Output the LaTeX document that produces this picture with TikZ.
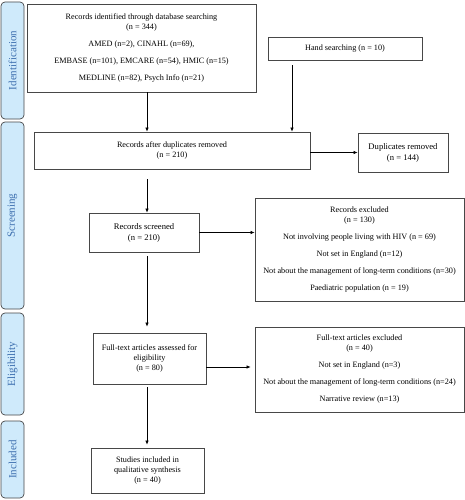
\documentclass[tikz,border=0pt]{standalone}
\usepackage{fontspec}
\setmainfont{Liberation Serif}
\usetikzlibrary{arrows.meta}
\definecolor{bandfill}{HTML}{CFEAFB}
\definecolor{bandtext}{HTML}{3D6FAF}
\definecolor{boxline}{HTML}{474747}
\tikzset{
  box/.style={draw=boxline, line width=0.8pt, fill=white, align=center, inner sep=1pt,
    font=\fontsize{8.2}{10}\selectfont},
  band/.style={draw=boxline, line width=0.7pt, fill=bandfill, rounded corners=4pt},
  bandlabel/.style={text=bandtext, rotate=90, font=\fontsize{11}{13}\selectfont},
  arr/.style={line width=0.6pt, -{Latex[length=4pt,width=3.5pt]}}
}
\begin{document}
\begin{tikzpicture}[x=1pt,y=-1pt]
\useasboundingbox (0,0) rectangle (465,500);
% bands
\draw[band] (1,2) rectangle (24,119);
\node[bandlabel] (lid) at (12.5,60.5) {Identification};
\draw[band] (1,122) rectangle (24,309);
\node[bandlabel] (lsc) at (12.5,215.5) {Screening};
\draw[band] (1,313) rectangle (24,415);
\node[bandlabel] (lel) at (12.5,364) {Eligibility};
\draw[band] (1,421) rectangle (24,498);
\node[bandlabel] (lin) at (12.5,459.5) {Included};
% boxes
\node[box, minimum width=229, minimum height=88] (b1) at (141.5,48)
  {Records identified through database searching\\(n = 344)\\[7pt]
   AMED (n=2), CINAHL (n=69),\\[7pt]
   EMBASE (n=101), EMCARE (n=54), HMIC (n=15)\\[7pt]
   MEDLINE (n=82), Psych Info (n=21)};
\node[box, minimum width=154, minimum height=23] (hs) at (345,48.5) {Hand searching (n = 10)};
\node[box, minimum width=276, minimum height=37] (rad) at (172,150.5)
  {Records after duplicates removed\\(n = 210)};
\node[box, minimum width=90, minimum height=39, font=\fontsize{8.6}{11}\selectfont] (dr) at (403,152.5)
  {Duplicates removed\\(n = 144)};
\node[box, minimum width=110, minimum height=39, font=\fontsize{8.6}{11}\selectfont] (rs) at (144,232.5)
  {Records screened\\(n = 210)};
\node[box, minimum width=209, minimum height=103] (re) at (359.5,249.5)
  {Records excluded\\(n = 130)\\[7pt]
   Not involving people living with HIV (n = 69)\\[7pt]
   Not set in England (n=12)\\[7pt]
   Not about the management of long-term conditions (n=30)\\[7pt]
   Paediatric population (n = 19)};
\node[box, minimum width=113, minimum height=51] (fta) at (149.5,358.5)
  {Full-text articles assessed for\\eligibility\\(n = 80)};
\node[box, minimum width=209, minimum height=85] (fte) at (359.5,369.5)
  {Full-text articles excluded\\(n = 40)\\[7pt]
   Not set in England (n=3)\\[7pt]
   Not about the management of long-term conditions (n=24)\\[7pt]
   Narrative review (n=13)};
\node[box, minimum width=113, minimum height=45] (si) at (147.5,470.5)
  {Studies included in\\qualitative synthesis\\(n = 40)};
% connectors
\coordinate (cx) at (147,0);
\coordinate (hx) at (292,0);
\draw[arr] (b1.south -| cx) -- (rad.north -| cx);
\draw[arr, shorten <=5pt] (hs.south -| hx) -- (rad.north -| hx);
\draw[arr] (rad.east |- dr.west) -- (dr.west);
\draw[arr, shorten <=10pt] (rad.south -| cx) -- (rs.north -| cx);
\draw[arr] (rs.east) -- (rs.east -| re.west);
\draw[arr, shorten <=4pt, shorten >=6pt] (rs.south -| cx) -- (fta.north -| cx);
\draw[arr, shorten >=4pt] (fta.east |- 0,367) -- (fte.west |- 0,367);
\draw[arr, shorten <=3pt, shorten >=3pt] (fta.south -| cx) -- (si.north -| cx);
\end{tikzpicture}
\end{document}
